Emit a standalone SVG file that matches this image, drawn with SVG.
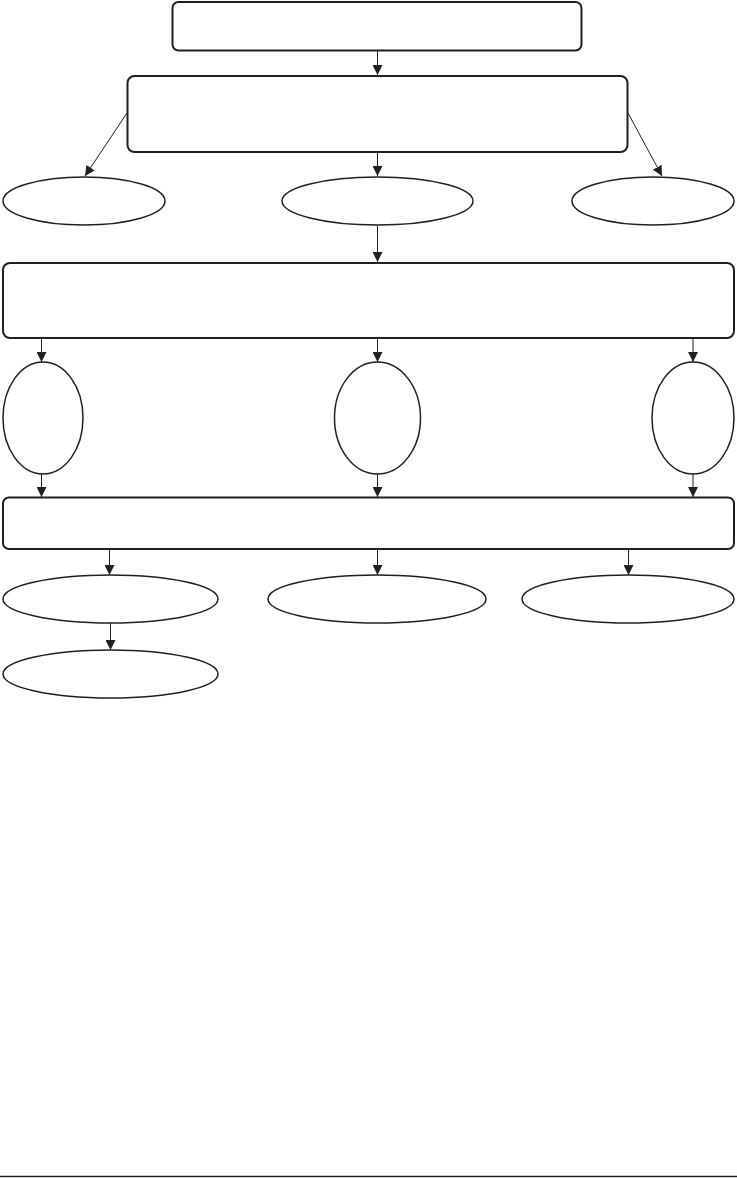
<svg xmlns="http://www.w3.org/2000/svg" width="737" height="1178" viewBox="0 0 737 1178">
<style>
.box{fill:#fff;stroke:#231f20;stroke-width:2}
.ell{fill:#fff;stroke:#231f20;stroke-width:1.5}
.con{fill:none;stroke:#231f20;stroke-width:1;marker-end:url(#arr)}
</style>
<defs>
<marker id="arr" viewBox="0 0 10 10" refX="10" refY="5" markerWidth="10" markerHeight="10" markerUnits="userSpaceOnUse" orient="auto">
<path d="M0,0 L10,5 L0,10 Z" fill="#231f20"/>
</marker>
</defs>
<rect width="737" height="1178" fill="#fff"/>
<g id="box1"><rect class="box" x="172.5" y="2" width="409" height="48.5" rx="6"/></g>
<g id="box2"><rect class="box" x="127.5" y="76" width="500" height="76" rx="7"/></g>
<g id="ell1"><ellipse class="ell" cx="84" cy="201" rx="81" ry="24"/></g>
<g id="ell2"><ellipse class="ell" cx="377.5" cy="201" rx="95.5" ry="24"/></g>
<g id="ell3"><ellipse class="ell" cx="653" cy="201" rx="81" ry="24"/></g>
<g id="box3"><rect class="box" x="3" y="263" width="731" height="75" rx="7"/></g>
<g id="tall1"><ellipse class="ell" cx="43" cy="418" rx="40" ry="56"/></g>
<g id="tall2"><ellipse class="ell" cx="377.5" cy="418" rx="43" ry="56"/></g>
<g id="tall3"><ellipse class="ell" cx="693" cy="418" rx="41" ry="56"/></g>
<g id="box4"><rect class="box" x="3" y="497.5" width="731" height="51.5" rx="6"/></g>
<g id="ell4"><ellipse class="ell" cx="110.5" cy="599" rx="107.5" ry="24"/></g>
<g id="ell5"><ellipse class="ell" cx="377" cy="599" rx="109" ry="24"/></g>
<g id="ell6"><ellipse class="ell" cx="628" cy="599" rx="106" ry="24"/></g>
<g id="ell7"><ellipse class="ell" cx="110.5" cy="674" rx="107.5" ry="24"/></g>
<g id="connectors">
<line class="con" x1="377.5" y1="51" x2="377.5" y2="75"/>
<line class="con" x1="127" y1="113" x2="85" y2="176"/>
<line class="con" x1="377.5" y1="152" x2="377.5" y2="176"/>
<line class="con" x1="628" y1="113" x2="662" y2="176"/>
<line class="con" x1="377.5" y1="226" x2="377.5" y2="262"/>
<line class="con" x1="41.5" y1="339" x2="41.5" y2="362"/>
<line class="con" x1="377.5" y1="339" x2="377.5" y2="362"/>
<line class="con" x1="693" y1="339" x2="693" y2="362"/>
<line class="con" x1="41.5" y1="474" x2="41.5" y2="497"/>
<line class="con" x1="377.5" y1="474" x2="377.5" y2="497"/>
<line class="con" x1="693" y1="474" x2="693" y2="497"/>
<line class="con" x1="109.5" y1="549" x2="109.5" y2="575"/>
<line class="con" x1="377.5" y1="549" x2="377.5" y2="575"/>
<line class="con" x1="628.5" y1="549" x2="628.5" y2="575"/>
<line class="con" x1="110.5" y1="623" x2="110.5" y2="650"/>
</g>
<line x1="0" y1="1176.5" x2="737" y2="1176.5" stroke="#231f20" stroke-width="1.5"/>
</svg>
